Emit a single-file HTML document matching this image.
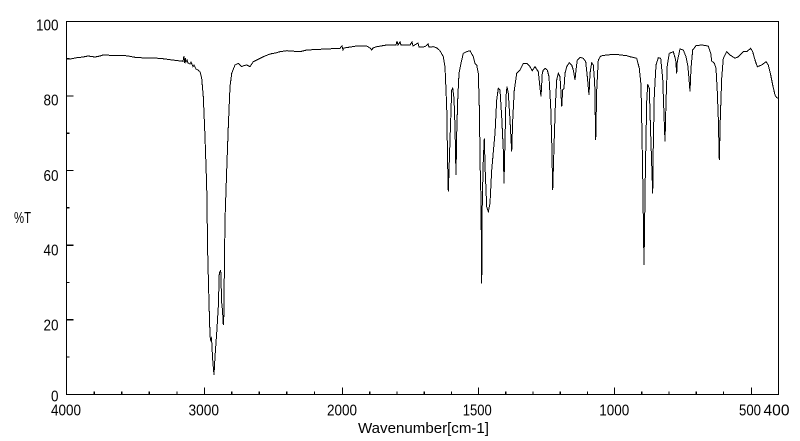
<!DOCTYPE html>
<html>
<head>
<meta charset="utf-8">
<style>
  html,body{margin:0;padding:0;background:#fff;}
  svg{display:block;}
  text{font-family:"Liberation Sans",sans-serif;fill:#000;}
</style>
</head>
<body>
<svg width="800" height="441" viewBox="0 0 800 441" xmlns="http://www.w3.org/2000/svg">
  <rect x="0" y="0" width="800" height="441" fill="#fff"/>
  <!-- frame -->
  <g stroke="#000" stroke-width="1.3" fill="none" shape-rendering="crispEdges">
    <rect x="66.5" y="21.5" width="712" height="373"/>
    <line x1="66.5" y1="95.9" x2="73.5" y2="95.9"/>
    <line x1="66.5" y1="170.5" x2="73.5" y2="170.5"/>
    <line x1="66.5" y1="245.1" x2="73.5" y2="245.1"/>
    <line x1="66.5" y1="319.7" x2="73.5" y2="319.7"/>
    <line x1="66.5" y1="58.6" x2="69.5" y2="58.6"/>
    <line x1="66.5" y1="133.2" x2="69.5" y2="133.2"/>
    <line x1="66.5" y1="207.8" x2="69.5" y2="207.8"/>
    <line x1="66.5" y1="282.4" x2="69.5" y2="282.4"/>
    <line x1="66.5" y1="357.0" x2="69.5" y2="357.0"/>
    <line x1="94.1" y1="394.5" x2="94.1" y2="391.5"/>
    <line x1="121.7" y1="394.5" x2="121.7" y2="391.5"/>
    <line x1="149.3" y1="394.5" x2="149.3" y2="391.5"/>
    <line x1="176.9" y1="394.5" x2="176.9" y2="391.5"/>
    <line x1="231.6" y1="394.5" x2="231.6" y2="391.5"/>
    <line x1="259.2" y1="394.5" x2="259.2" y2="391.5"/>
    <line x1="286.8" y1="394.5" x2="286.8" y2="391.5"/>
    <line x1="314.4" y1="394.5" x2="314.4" y2="391.5"/>
    <line x1="204.5" y1="394.5" x2="204.5" y2="387.5"/>
    <line x1="342.5" y1="394.5" x2="342.5" y2="387.5"/>
    <line x1="478.5" y1="394.5" x2="478.5" y2="387.5"/>
    <line x1="614.5" y1="394.5" x2="614.5" y2="387.5"/>
    <line x1="751.5" y1="394.5" x2="751.5" y2="387.5"/>
    <line x1="369.8" y1="394.5" x2="369.8" y2="391.5"/>
    <line x1="397" y1="394.5" x2="397" y2="391.5"/>
    <line x1="424.3" y1="394.5" x2="424.3" y2="391.5"/>
    <line x1="451.5" y1="394.5" x2="451.5" y2="391.5"/>
    <line x1="505.8" y1="394.5" x2="505.8" y2="391.5"/>
    <line x1="533" y1="394.5" x2="533" y2="391.5"/>
    <line x1="560.3" y1="394.5" x2="560.3" y2="391.5"/>
    <line x1="587.5" y1="394.5" x2="587.5" y2="391.5"/>
    <line x1="641.8" y1="394.5" x2="641.8" y2="391.5"/>
    <line x1="669" y1="394.5" x2="669" y2="391.5"/>
    <line x1="696.3" y1="394.5" x2="696.3" y2="391.5"/>
    <line x1="723.5" y1="394.5" x2="723.5" y2="391.5"/>
  </g>

  <!-- spectrum -->
  <polyline fill="none" stroke="#000" stroke-width="1" shape-rendering="crispEdges" points="
66,59.3 70,59 77,57.7 83,57 88,56 95,57 100,56 103,55 110,55.3 122,55.3 128,56 135,57.3 145,58 160,58.3 170,59.7 178,60.7 183,61.3 184,56 184.6,63 185.3,58 186,62 187,60 188,63 190,64 191,62 193,66.7 194,65 196,69 198,70 200,71.7
201.7,78.3 203.3,96.7 205,136.7 206.7,186.7 207.7,253 209,303 210,335 210.5,340 211.5,338 212.7,360 214,375 215,356.7 216.7,333 218.3,306.7 219.3,273.3 220.7,270 221.7,303 222.5,310 223.3,325 224,313 224.3,273 225,220 226.7,170 228.3,126.7 230,86.7 231.7,73.3 235,65 238.3,63.3 241.7,66.7 244,65.5 246.7,65 250,66.7 253.3,61.7 263.3,56.7 270,54 276.7,52.7 280,51.7
286.7,50.7 300,51.7 306.7,50 320,49.3 340,48.3 342,46 343,50 344,48 356.7,46 366.7,46 370,48 371.7,50 373,48 376.7,46.7 386.7,45 396,45 397,41 398,45 400,42 401,45 410,45 412,42 413,46 418,43 419,47 425,46.7 428,44 429,47 433.3,46.7 437,48 440,50.7 443.3,56.7
445,66.7 446.7,106.7 447.7,166.7 448.3,191.7 450,140 451.7,90 452.7,88.3 454,98.3 455,126.7 456,175 456.7,133.3 457.7,100 459,73.3 461,63.3 463.3,53.3 466.7,51.7 470,50.7 473.3,56.7 475,63.3 476.7,65 478.3,73.3 479.3,106.7 480.3,173.3 481,200 481.7,283.3 482.3,200 483.3,160 484.3,138.3 485.3,173.3 486.7,206.7 488.3,211.7 490,203.3 491.7,170 495,133.3 496.7,100 498.3,88.3 500,90 501.7,116.7 503.3,150 504,183.3 505,140 506,96.7 507,86.7 508.3,93.3 510,120 511.7,151.7 512.7,120 514.3,90 516.7,73.3 520,70 523.3,63.3 526.7,63.3 530,66.7 532.3,70.7 535,66.7 538.3,71.7 541,96.7 542.3,73.3 543.3,70 545,68.3 547.3,70 549,76.7 550.7,106.7 551.7,140 552.7,190 554,146.7 555.3,106.7 556.7,80 558.3,73.3 560,76.7 561,93.3 561.7,106.7 562.7,90 564,88.3 565,73.3 566.7,66.7 569.3,62.7 571.7,65 573.3,70 575,80 576,70 577.3,60 580,57.3 583.3,58.3 585.7,61.7 587.3,76.7 589,95 590,73.3 591.7,62.7 593.3,65 594.7,83.3 595.7,140 596.7,90 598.3,60 600.7,56 606.7,55 615,54.3 626.7,55.7 630,56.7 636.7,58.3 639.3,68.3 641,85 642,135 642.7,175 644,265 645.3,175 646.7,101.7 647.7,84.3 649.3,88.3 650.7,135 652.7,193.3 653.3,145 654.3,95 656,65 658.3,57.7 660.7,58.3 662.7,78.3 664,115 665,141.7 666,101.7 667.3,65 669.3,53.3 673.3,51.7 675.7,60 676.7,73.3 677.3,61.7 680,49 683.3,50 686,56.7 687.7,65 689,78.3 690,91.7 691,68.3 692.7,50 696,45.7 701.7,45 708.3,46 710.7,53.3 711.7,61 714.3,63.3 716,68.3 717.3,91.7 718.3,118.3 719.3,160 720.3,118.3 721.7,78.3 723.3,58.3 726.7,51.7 730,55 735,58.3 738.3,56.7 743.3,51.7 746.7,51.7 750.7,48.3 752.7,51.7 755,60 757.3,66.7 761.7,65 766,61.7 768.3,65 770.7,75 772.7,85 775,95 776.7,97.7 778.7,98"/>

  <!-- y labels -->
  <g font-size="16" text-anchor="end">
    <text x="58.5" y="30.5" textLength="22.5" lengthAdjust="spacingAndGlyphs">100</text>
    <text x="58.5" y="105.5" textLength="15" lengthAdjust="spacingAndGlyphs">80</text>
    <text x="58.5" y="181" textLength="15" lengthAdjust="spacingAndGlyphs">60</text>
    <text x="58.5" y="255.5" textLength="15" lengthAdjust="spacingAndGlyphs">40</text>
    <text x="58.5" y="330.5" textLength="15" lengthAdjust="spacingAndGlyphs">20</text>
    <text x="58.5" y="401.5" textLength="7.5" lengthAdjust="spacingAndGlyphs">0</text>
  </g>
  <!-- x labels -->
  <g font-size="16">
    <text x="51" y="415.5" textLength="30" lengthAdjust="spacingAndGlyphs">4000</text>
    <text x="188.5" y="415.5" textLength="30.5" lengthAdjust="spacingAndGlyphs">3000</text>
    <text x="327" y="415.5" textLength="30" lengthAdjust="spacingAndGlyphs">2000</text>
    <text x="462.7" y="415.5" textLength="29" lengthAdjust="spacingAndGlyphs">1500</text>
    <text x="599.3" y="415.5" textLength="30" lengthAdjust="spacingAndGlyphs">1000</text>
    <text x="739" y="415.5" textLength="22" lengthAdjust="spacingAndGlyphs">500</text>
    <text x="763.5" y="415.5" textLength="26" lengthAdjust="spacingAndGlyphs">400</text>
  </g>
  <text x="14" y="223" font-size="16" textLength="17" lengthAdjust="spacingAndGlyphs">%T</text>
  <text x="358" y="433" font-size="14.5" textLength="131" lengthAdjust="spacingAndGlyphs">Wavenumber[cm-1]</text>
</svg>
</body>
</html>
